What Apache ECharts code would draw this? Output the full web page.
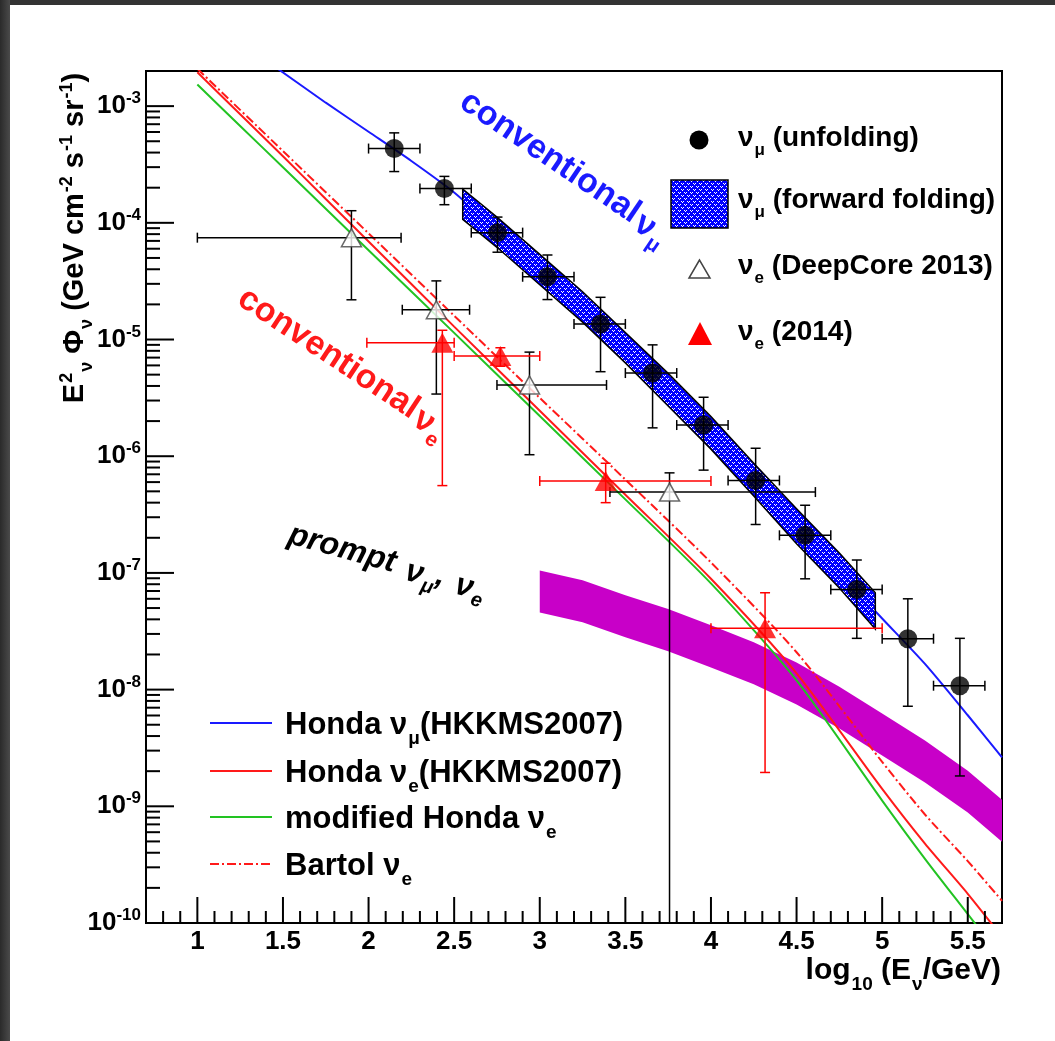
<!DOCTYPE html>
<html><head><meta charset="utf-8">
<script src="https://cdn.jsdelivr.net/npm/echarts@6/dist/echarts.min.js"></script>
<style>html,body{margin:0;padding:0;background:#fff}#c{width:1055px;height:1041px}</style>
</head><body><div id="c"></div><script>
// ---------------- data ----------------
const xTicks = [1, 1.5, 2, 2.5, 3, 3.5, 4, 4.5, 5, 5.5];
const yTicks = [1e-10, 1e-9, 1e-8, 1e-7, 1e-6, 1e-5, 1e-4, 1e-3];

// Honda nu_mu (HKKMS2007)
const hondaMuX = [1.45, 1.75, 2.0, 2.25, 2.5, 2.75, 3.0, 3.25, 3.5, 3.75, 4.0, 4.25, 4.5, 4.75, 5.0, 5.25, 5.5, 5.7];
const hondaMuY = [2.19e-3, 1.07e-3, 6.03e-4, 3.39e-4, 1.82e-4, 8.51e-5, 3.89e-5, 1.91e-5, 8.51e-6, 3.80e-6, 1.62e-6, 6.61e-7, 2.51e-7, 1.0e-7, 4.07e-8, 1.66e-8, 6.03e-9, 2.63e-9];
// Honda nu_e (HKKMS2007)
const hondaEX = [1.0, 1.25, 1.5, 1.75, 2.0, 2.5, 3.0, 3.5, 4.0, 4.5, 5.0, 5.25, 5.5, 5.7];
const hondaEY = [1.95e-3, 8.51e-4, 3.72e-4, 1.60e-4, 6.92e-5, 1.29e-5, 2.45e-6, 4.68e-7, 8.91e-8, 1.38e-8, 1.41e-9, 4.79e-10, 1.78e-10, 7.59e-11];
// modified Honda nu_e
const modX = [1.0, 1.25, 1.5, 2.0, 2.5, 3.0, 3.5, 4.0, 4.5, 5.0, 5.25, 5.54, 5.6];
const modY = [1.53e-3, 6.76e-4, 2.99e-4, 5.82e-5, 1.14e-5, 2.21e-6, 4.27e-7, 8.13e-8, 1.20e-8, 1.12e-9, 3.55e-10, 1.0e-10, 7.6e-11];
// Bartol nu_e
const bartolX = [1.0, 1.5, 2.0, 2.5, 3.0, 3.5, 4.0, 4.5, 5.0, 5.25, 5.5, 5.7];
const bartolY = [2.09e-3, 4.12e-4, 8.13e-5, 1.60e-5, 3.16e-6, 6.31e-7, 1.23e-7, 2.09e-8, 2.40e-9, 8.51e-10, 3.39e-10, 1.55e-10];

// prompt band
const promptX  = [3.0, 3.25, 3.5, 3.75, 4.0, 4.25, 4.5, 4.75, 5.0, 5.25, 5.5, 5.7];
const promptHi = [1.05e-7, 8.65e-8, 6.45e-8, 4.9e-8, 3.56e-8, 2.54e-8, 1.71e-8, 1.06e-8, 6.24e-9, 3.66e-9, 2.02e-9, 1.14e-9];
const promptLo = [4.59e-8, 3.77e-8, 2.81e-8, 2.13e-8, 1.55e-8, 1.11e-8, 7.46e-9, 4.64e-9, 2.72e-9, 1.60e-9, 8.83e-10, 4.98e-10];

// nu_mu forward folding band
const ffX  = [2.55, 2.75, 3.0, 3.25, 3.5, 3.75, 4.0, 4.25, 4.5, 4.75, 4.96];
const ffHi = [1.95e-4, 1.12e-4, 5.37e-5, 2.57e-5, 1.15e-5, 5.13e-6, 2.19e-6, 8.71e-7, 3.55e-7, 1.48e-7, 6.76e-8];
const ffLo = [1.07e-4, 6.17e-5, 2.95e-5, 1.41e-5, 6.31e-6, 2.69e-6, 1.15e-6, 4.57e-7, 1.78e-7, 7.41e-8, 3.31e-8];

// nu_mu unfolding
const unfX   = [2.15, 2.443, 2.753, 3.045, 3.355, 3.659, 3.957, 4.261, 4.55, 4.852, 5.15, 5.454];
const unfY   = [4.33e-4, 1.97e-4, 8.24e-5, 3.45e-5, 1.36e-5, 5.16e-6, 1.85e-6, 6.2e-7, 2.1e-7, 7.2e-8, 2.73e-8, 1.08e-8];
const unfXLo = [2.0, 2.3, 2.6, 2.9, 3.2, 3.5, 3.8, 4.1, 4.4, 4.7, 5.0, 5.3];
const unfXHi = [2.3, 2.6, 2.9, 3.2, 3.5, 3.8, 4.1, 4.4, 4.7, 5.0, 5.3, 5.6];
const unfYLo = [2.75e-4, 1.43e-4, 5.6e-5, 2.2e-5, 5.3e-6, 1.75e-6, 7.6e-7, 2.6e-7, 8.9e-8, 2.75e-8, 7.2e-9, 1.82e-9];
const unfYHi = [5.9e-4, 2.5e-4, 1.12e-4, 5.3e-5, 2.3e-5, 9.0e-6, 3.2e-6, 1.17e-6, 3.8e-7, 1.29e-7, 6.0e-8, 2.75e-8];

// nu_e DeepCore 2013
const dcX   = [1.90, 2.396, 2.94, 3.758];
const dcY   = [7.46e-5, 1.8e-5, 4.08e-6, 4.93e-7];
const dcXLo = [1.0, 2.197, 2.75, 3.41];
const dcXHi = [2.19, 2.59, 3.39, 4.61];
const dcYLo = [2.19e-5, 3.41e-6, 1.03e-6, 1e-12];
const dcYHi = [1.27e-4, 3.18e-5, 7.8e-6, 7.2e-7];

// nu_e 2014
const e14X   = [2.431, 2.77, 3.385, 4.316];
const e14Y   = [9.37e-6, 7.24e-6, 6.12e-7, 3.35e-8];
const e14XLo = [1.99, 2.5, 3.0, 4.0];
const e14XHi = [2.5, 3.0, 4.0, 5.0];
const e14YLo = [5.6e-7, 5.9e-6, 4.0e-7, 1.95e-9];
const e14YHi = [1.2e-5, 8.5e-6, 8.7e-7, 6.76e-8];

// ---------------- helpers ----------------
const FF = '"Liberation Sans", Arial, Helvetica, sans-serif';
const pts = (xs, ys) => xs.map((x, i) => [x, ys[i]]);
const band = (xs, lo, hi) => xs.map((x, i) => [x, lo[i], hi[i]]);
const errs = (x, y, xl, xh, yl, yh) => x.map((v, i) => [v, y[i], xl[i], xh[i], yl[i], yh[i]]);

// minor tick positions
const xMinor = [];
for (let k = 8; k <= 56; k++) { if (k % 5 !== 0) xMinor.push(k / 10); }
const yMinor = [];
for (let e = -10; e <= -3; e++) { for (let m = 2; m <= 9; m++) { const v = m * Math.pow(10, e); if (v < 2e-3) yMinor.push(v); } }

// dotted blue pattern
const pc = document.createElement('canvas');
pc.width = 6; pc.height = 6;
const pctx = pc.getContext('2d');
pctx.fillStyle = '#0000ff'; pctx.fillRect(0, 0, 6, 6);
pctx.fillStyle = '#ffffff';
[[0, 0], [2, 0], [1, 1], [3, 3], [5, 3], [4, 4]].forEach(function (d) { pctx.fillRect(d[0], d[1], 1, 1); });
const bluePattern = { image: pc, repeat: 'repeat' };

function rich(F, color, italic) {
  const s = Math.round(F * 0.62), D = Math.round(F * 0.25);
  const base = { fontFamily: FF, fontWeight: 'bold', fontStyle: italic ? 'italic' : 'normal', fill: color, color: color };
  return {
    m: Object.assign({}, base, { fontSize: F, lineHeight: F, padding: [0, 0, D, 0], verticalAlign: 'bottom' }),
    g: Object.assign({}, base, { fontSize: F, lineHeight: F, padding: [0, 0, Math.max(D - 4, 0), 3], verticalAlign: 'bottom' }),
    s: Object.assign({}, base, { fontSize: s, lineHeight: s, padding: [0, 0, 0, 1], verticalAlign: 'bottom' }),
    p: Object.assign({}, base, { fontSize: s, lineHeight: s, padding: [0, 0, D + Math.round(F * 0.45), 1], verticalAlign: 'bottom' })
  };
}
function txt(x, y, text, F, color, opts) {
  opts = opts || {};
  return {
    type: 'text', x: x, y: y, rotation: opts.rot || 0, z: 50,
    style: { text: text, rich: rich(F, color, opts.italic), align: opts.align || 'left', verticalAlign: 'middle' }
  };
}

function bandRender(fill, stroke) {
  return function (params, api) {
    if (params.dataIndexInside !== 0) return null;
    const n = params.dataInsideLength;
    const top = [], bot = [];
    for (let i = 0; i < n; i++) {
      const x = api.value(0, i);
      top.push(api.coord([x, api.value(2, i)]));
      bot.unshift(api.coord([x, api.value(1, i)]));
    }
    const style = { fill: fill };
    if (stroke) { style.stroke = stroke; style.lineWidth = 1.5; } else { style.stroke = null; }
    return { type: 'polygon', shape: { points: top.concat(bot) }, style: style };
  };
}

function errRender(color) {
  return function (params, api) {
    const cs = params.coordSys;
    const x = api.value(0), y = api.value(1);
    const p = api.coord([x, y]);
    const xl = api.coord([api.value(2), y])[0];
    const xh = api.coord([api.value(3), y])[0];
    let yl = api.coord([x, api.value(4)])[1];
    let yh = api.coord([x, api.value(5)])[1];
    const bottom = cs.y + cs.height, top = cs.y;
    let lowClip = false, hiClip = false;
    if (yl > bottom) { yl = bottom; lowClip = true; }
    if (yh < top) { yh = top; hiClip = true; }
    const c = 5;
    const st = { stroke: color, lineWidth: 1.5 };
    const L = (x1, y1, x2, y2) => ({ type: 'line', shape: { x1: x1, y1: y1, x2: x2, y2: y2 }, style: st });
    const ch = [
      L(xl, p[1], xh, p[1]),
      L(xl, p[1] - c, xl, p[1] + c),
      L(xh, p[1] - c, xh, p[1] + c),
      L(p[0], yh, p[0], yl)
    ];
    if (!hiClip) ch.push(L(p[0] - c, yh, p[0] + c, yh));
    if (!lowClip) ch.push(L(p[0] - c, yl, p[0] + c, yl));
    return { type: 'group', children: ch };
  };
}

// axis tick marks (inward), placed through the axes' scales
function tickRender(dir, len) {
  return function (params, api) {
    const cs = params.coordSys;
    const st = { stroke: '#000', lineWidth: 2 };
    if (dir === 'x') {
      const px = api.coord([api.value(0), api.value(1)])[0];
      const yb = cs.y + cs.height;
      return { type: 'line', shape: { x1: px, y1: yb, x2: px, y2: yb - len }, style: st };
    }
    const py = api.coord([api.value(0), api.value(1)])[1];
    return { type: 'line', shape: { x1: cs.x, y1: py, x2: cs.x + len, y2: py }, style: st };
  };
}
const tickSeries = (name, dir, vals, len) => ({
  name: name, type: 'custom', z: 6, silent: true, renderItem: tickRender(dir, len),
  encode: { x: 0, y: 1 },
  data: dir === 'x' ? vals.map(v => [v, 1e-5]) : vals.map(v => [3, v])
});

const chart = echarts.init(document.getElementById('c'), null, { renderer: 'canvas' });

const axisFont = { fontFamily: FF, fontWeight: 'bold', color: '#000' };

const option = {
  backgroundColor: '#ffffff',
  animation: false,
  grid: { left: 146, top: 71, width: 856, height: 852, show: true, borderColor: '#000', borderWidth: 2, backgroundColor: '#fff', outerBoundsMode: 'none' },
  xAxis: {
    type: 'value', min: 0.7, max: 5.7, position: 'bottom',
    axisLine: { show: false, onZero: false }, splitLine: { show: false },
    axisTick: { show: false },
    axisLabel: Object.assign({ customValues: xTicks.slice(), margin: 6, fontSize: 26, lineHeight: 26 }, axisFont)
  },
  yAxis: {
    type: 'log', logBase: 10, min: 1e-10, max: 2e-3, position: 'left',
    axisLine: { show: false, onZero: false }, splitLine: { show: false },
    axisTick: { show: false },
    axisLabel: {
      customValues: yTicks.slice(), margin: 5,
      formatter: function (v) { return '{b|10}{e|' + Math.round(Math.log10(v)) + '}'; },
      rich: {
        b: { fontFamily: FF, fontWeight: 'bold', color: '#000', fontSize: 26, lineHeight: 26, verticalAlign: 'bottom' },
        e: { fontFamily: FF, fontWeight: 'bold', color: '#000', fontSize: 17, lineHeight: 17, padding: [0, 0, 12, 0], verticalAlign: 'bottom' }
      }
    }
  },
  series: [
    { name: 'prompt', type: 'custom', z: 1, renderItem: bandRender('#c800c8', null),
      encode: { x: 0, y: [1, 2] }, data: band(promptX, promptLo, promptHi) },
    { name: 'Honda νμ(HKKMS2007)', type: 'line', z: 2, showSymbol: false, symbol: 'none', smooth: 0.25,
      lineStyle: { color: '#1a1aff', width: 2 }, data: pts(hondaMuX, hondaMuY) },
    { name: 'Honda νe(HKKMS2007)', type: 'line', z: 2, showSymbol: false, symbol: 'none', smooth: 0.25,
      lineStyle: { color: '#ff1a1a', width: 2 }, data: pts(hondaEX, hondaEY) },
    { name: 'modified Honda νe', type: 'line', z: 2, showSymbol: false, symbol: 'none', smooth: 0.25,
      lineStyle: { color: '#22c322', width: 2 }, data: pts(modX, modY) },
    { name: 'Bartol νe', type: 'line', z: 2, showSymbol: false, symbol: 'none', smooth: 0.25,
      lineStyle: { color: '#ff1a1a', width: 2, type: [9, 3, 2, 3] }, data: pts(bartolX, bartolY) },
    { name: 'νμ (forward folding)', type: 'custom', z: 3, renderItem: bandRender(bluePattern, '#000'),
      encode: { x: 0, y: [1, 2] }, data: band(ffX, ffLo, ffHi) },
    { name: 'err unfolding', type: 'custom', z: 4, renderItem: errRender('#000'),
      encode: { x: [0, 2, 3], y: [1, 4, 5] }, data: errs(unfX, unfY, unfXLo, unfXHi, unfYLo, unfYHi) },
    { name: 'err DeepCore', type: 'custom', z: 4, renderItem: errRender('#000'),
      encode: { x: [0, 2, 3], y: [1, 4, 5] }, data: errs(dcX, dcY, dcXLo, dcXHi, dcYLo, dcYHi) },
    { name: 'err 2014', type: 'custom', z: 4, renderItem: errRender('#ff0000'),
      encode: { x: [0, 2, 3], y: [1, 4, 5] }, data: errs(e14X, e14Y, e14XLo, e14XHi, e14YLo, e14YHi) },
    { name: 'νμ (unfolding)', type: 'scatter', z: 5, symbol: 'circle', symbolSize: 19,
      itemStyle: { color: '#000' }, data: pts(unfX, unfY) },
    { name: 'νe (DeepCore 2013)', type: 'scatter', z: 5, symbol: 'triangle', symbolSize: [20, 18],
      itemStyle: { color: '#fff', borderColor: '#444', borderWidth: 1.5 }, data: pts(dcX, dcY) },
    { name: 'νe (2014)', type: 'scatter', z: 5, symbol: 'triangle', symbolSize: [22, 20],
      itemStyle: { color: '#ff0000' }, data: pts(e14X, e14Y) },
    tickSeries('x major ticks', 'x', xTicks, 26),
    tickSeries('x minor ticks', 'x', xMinor, 12),
    tickSeries('y major ticks', 'y', yTicks, 28),
    tickSeries('y minor ticks', 'y', yMinor, 14)
  ],
  graphic: [
    // dark slide frame
    { type: 'rect', shape: { x: 0, y: 0, width: 1055, height: 5 }, style: { fill: '#333' }, z: 100 },
    { type: 'rect', shape: { x: 0, y: 0, width: 10, height: 1041 },
      style: { fill: new echarts.graphic.LinearGradient(0, 0, 1, 0, [{ offset: 0, color: '#2a2a2a' }, { offset: 1, color: '#4a4a4a' }]) }, z: 100 },

    // annotations
    txt(458, 106, '{m|conventional}{g|ν}{s|μ}', 34, '#1a1aff', { rot: -0.593 }),
    txt(236, 303, '{m|conventional}{g|ν}{s|e}', 34, '#ff1a1a', { rot: -0.585 }),
    txt(287, 542, '{m|prompt }{g|ν}{s|μ}{m|, }{g|ν}{s|e}', 32, '#000', { rot: -0.27, italic: true }),

    // axis titles
    txt(1001, 979, '{m|log}{s|10}{m| (E}{s|ν}{m|/GeV)}', 30, '#000', { align: 'right' }),
    txt(82, 238, '{m|E}{p|2}{s|ν}{m| Φ}{s|ν}{m| (GeV cm}{p|-2}{m| s}{p|-1}{m| sr}{p|-1}{m|)}', 29, '#000', { align: 'center', rot: Math.PI / 2 }),

    // top-right legend
    { type: 'circle', shape: { cx: 699, cy: 140, r: 9.5 }, style: { fill: '#000' }, z: 50 },
    { type: 'rect', shape: { x: 671, y: 180, width: 57, height: 48 }, style: { fill: bluePattern, stroke: '#000', lineWidth: 1.5 }, z: 50 },
    { type: 'polygon', shape: { points: [[699.5, 260], [689, 278], [710, 278]] }, style: { fill: '#fff', stroke: '#444', lineWidth: 1.5 }, z: 50 },
    { type: 'polygon', shape: { points: [[700, 322], [688, 345], [712, 345]] }, style: { fill: '#ff0000' }, z: 50 },
    txt(738, 145, '{m|ν}{s|μ}{m| (unfolding)}', 28, '#000'),
    txt(738, 207, '{m|ν}{s|μ}{m| (forward folding)}', 28, '#000'),
    txt(738, 273, '{m|ν}{s|e}{m| (DeepCore 2013)}', 28, '#000'),
    txt(738, 339, '{m|ν}{s|e}{m| (2014)}', 28, '#000'),

    // bottom-left legend
    { type: 'line', shape: { x1: 210, y1: 723, x2: 272, y2: 723 }, style: { stroke: '#1a1aff', lineWidth: 2 }, z: 50 },
    { type: 'line', shape: { x1: 210, y1: 771, x2: 272, y2: 771 }, style: { stroke: '#ff1a1a', lineWidth: 2 }, z: 50 },
    { type: 'line', shape: { x1: 210, y1: 817, x2: 272, y2: 817 }, style: { stroke: '#22c322', lineWidth: 2 }, z: 50 },
    { type: 'line', shape: { x1: 210, y1: 864, x2: 272, y2: 864 }, style: { stroke: '#ff1a1a', lineWidth: 2, lineDash: [9, 3, 2, 3] }, z: 50 },
    txt(285, 733, '{m|Honda ν}{s|μ}{m|(HKKMS2007)}', 31, '#000'),
    txt(285, 781, '{m|Honda ν}{s|e}{m|(HKKMS2007)}', 31, '#000'),
    txt(285, 827, '{m|modified Honda ν}{s|e}', 31, '#000'),
    txt(285, 874, '{m|Bartol ν}{s|e}', 31, '#000')
  ]
};
chart.setOption(option);
</script></body></html>
